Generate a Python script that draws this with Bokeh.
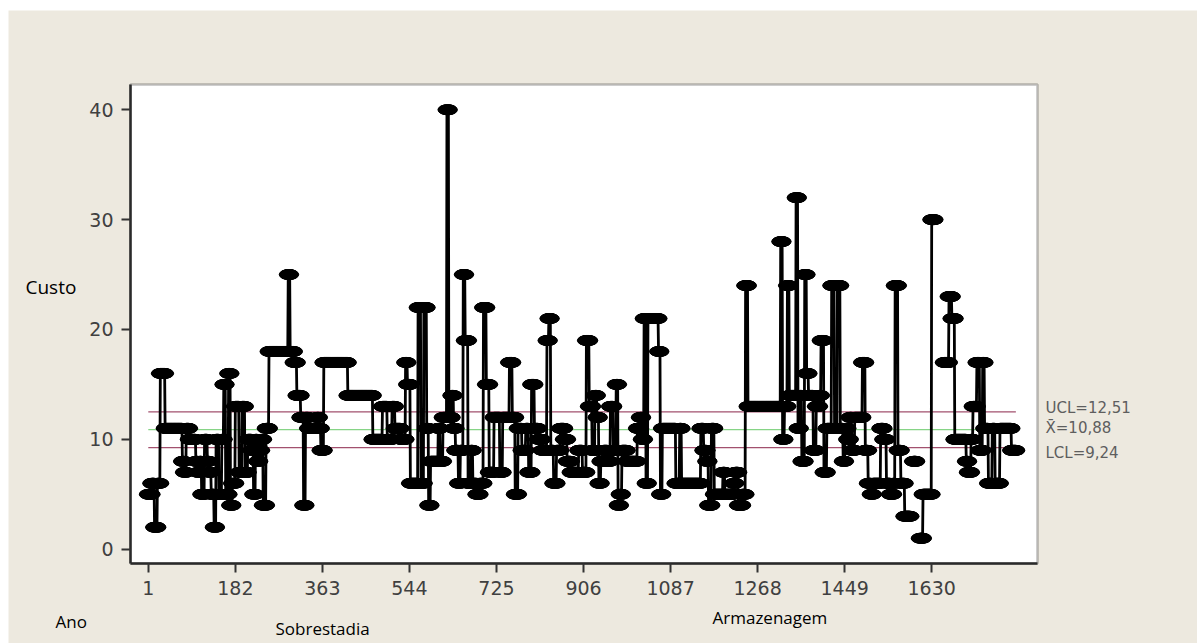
import numpy as np
from bokeh.plotting import figure
from bokeh.models import Range1d, FixedTicker, Label, BoxAnnotation
from bokeh.embed import file_html
from bokeh.resources import INLINE

nan = float("nan")

# ---- data: runs of the individual-value series (start index, value) ----
run_start = [
    1, 8, 14, 20, 26, 36, 72, 76, 80, 86, 100, 104, 108, 112, 118, 124, 128, 132, 138, 142,
    148, 154, 158, 162, 168, 172, 176, 182, 190, 196, 202, 208, 216, 220, 224, 228, 232, 236,
    240, 246, 252, 292, 296, 304, 310, 318, 324, 328, 334, 352, 356, 360,
    366, 416, 468, 488, 498, 508, 514, 526, 536, 540, 546, 562, 568, 574, 580, 584, 588, 604,
    608, 614, 622, 626, 632, 636, 640, 646, 650, 656, 660, 666, 672, 676, 684, 690, 698, 704,
    710, 720, 732, 738, 752, 758, 764, 770, 778,
    786, 792, 798, 804, 812, 820, 830, 834, 838, 844, 850, 858, 866, 872, 880, 896, 904, 912,
    918, 924, 930, 934, 938, 942, 948, 956, 962, 968, 974, 978, 982, 986, 996, 1018, 1024,
    1028, 1032, 1036, 1040, 1062, 1066, 1070, 1098, 1106, 1110, 1150, 1156, 1162, 1166, 1172,
    1178, 1196, 1200, 1218, 1222, 1228, 1236,
    1243, 1248, 1316, 1320, 1324, 1330, 1334, 1348, 1352, 1356, 1360, 1366, 1370, 1374, 1384,
    1390, 1396, 1400, 1406, 1412, 1422, 1428, 1434, 1440, 1446, 1450, 1455, 1460, 1464, 1470,
    1486, 1492, 1498, 1504, 1508, 1524, 1530, 1536, 1544, 1550, 1554, 1560, 1566, 1574, 1586,
    1592, 1598, 1606, 1612, 1630, 1636, 1656, 1666, 1672, 1678, 1702, 1706, 1712, 1716, 1724,
    1730, 1736, 1740, 1748, 1756, 1762, 1772, 1796,
]
run_value = [
    5, 6, 2, 6, 16, 11, 8, 7, 11, 10, 8, 7, 8, 5, 10, 8, 7, 5, 2, 10,
    5, 10, 15, 5, 16, 4, 6, 13, 7, 13, 7, 10, 9, 5, 10, 8, 9, 10,
    4, 11, 18, 25, 18, 17, 14, 12, 4, 12, 11, 12, 11, 9,
    17, 14, 10, 13, 10, 13, 11, 10, 17, 15, 6, 22, 6, 22, 11, 4, 8, 11,
    8, 12, 40, 12, 14, 11, 9, 6, 9, 25, 19, 6, 9, 6, 5, 6, 22, 15,
    7, 12, 7, 12, 17, 12, 5, 11, 9,
    11, 7, 15, 11, 10, 9, 19, 21, 9, 6, 9, 11, 10, 8, 7, 9, 7, 19,
    13, 9, 14, 12, 6, 8, 9, 8, 13, 9, 15, 4, 5, 9, 8, 11, 12,
    10, 21, 6, 21, 18, 5, 11, 6, 11, 6, 11, 9, 8, 4, 11,
    5, 7, 5, 6, 7, 4, 5,
    24, 13, 28, 10, 13, 24, 14, 32, 11, 14, 8, 25, 16, 14, 9,
    13, 14, 19, 7, 11, 24, 11, 24, 11, 8, 11, 10, 12, 9, 12,
    17, 9, 6, 5, 6, 11, 10, 6, 5, 6, 24, 9, 6, 3, nan,
    8, nan, 1, 5, 30, nan, 17, 23, 21, 10, 8, 7, 10, 13, 17,
    9, 17, 11, 6, 11, 6, 11, 9,
]
last_index = 1805

x_ticks = [1, 182, 363, 544, 725, 906, 1087, 1268, 1449, 1630]
y_ticks = [0, 10, 20, 30, 40]

limit_values = [12.51, 10.88, 9.24]
limit_texts = ["UCL=12,51", "X\u0304=10,88", "LCL=9,24"]
limit_colors = ["#a2506e", "#86d486", "#a2506e"]

# ---- build series ----
lengths = np.diff(run_start + [last_index + 1])
xs = np.arange(1, last_index + 1)
ys = np.repeat(np.array(run_value, dtype=float), lengths)

# chart box (data extent shown inside the white panel)
box_x = (-36, 1850)
box_y = (-1.3, 42.3)

BG = "#EDE9DF"
W, H = 1189, 633
# white panel occupies canvas pixels x 122..1029, y 74..553 (from top)
ux = (box_x[1] - box_x[0]) / 907.0
uy = (box_y[1] - box_y[0]) / 479.0
xr = Range1d(box_x[0] - 122 * ux, box_x[1] + (W - 1029) * ux)
yr = Range1d(box_y[0] - (H - 553) * uy, box_y[1] + 74 * uy)

p = figure(width=W, height=H, output_backend="svg", toolbar_location=None,
           x_range=xr, y_range=yr,
           min_border=0, min_border_left=0, min_border_right=0, min_border_top=0, min_border_bottom=0,
           background_fill_color=BG, border_fill_color=BG, outline_line_color=None)
p.margin = (10, 0, 0, 8)
p.grid.visible = False

p.add_layout(BoxAnnotation(left=box_x[0], right=box_x[1], bottom=box_y[0], top=box_y[1],
                           fill_color="white", fill_alpha=1, line_color="#2a2a2a",
                           line_width=2.5, level="underlay"))

p.xaxis.ticker = FixedTicker(ticks=x_ticks)
p.yaxis.ticker = FixedTicker(ticks=y_ticks)
p.xaxis.fixed_location = box_y[0]
p.yaxis.fixed_location = box_x[0]
p.xaxis.bounds = box_x
p.yaxis.bounds = box_y
for ax in (p.xaxis[0], p.yaxis[0]):
    ax.major_label_text_font = "DejaVu Sans"
    ax.major_label_text_font_size = "19px"
    ax.major_label_text_color = "#404040"
    ax.minor_tick_line_color = None
    ax.major_tick_in = 0
    ax.major_tick_out = 9
    ax.major_tick_line_width = 2
    ax.major_tick_line_color = "#333333"
    ax.axis_line_color = "#2a2a2a"
    ax.axis_line_width = 2.5
p.xaxis.major_label_standoff = 8
p.yaxis.major_label_standoff = 8

# control limits
p.segment(x0=[xs[0]] * 3, x1=[xs[-1]] * 3, y0=limit_values, y1=limit_values,
          line_color=limit_colors, line_width=1.3)

# series
p.line(xs, ys, line_color="black", line_width=2.8)
p.ellipse(xs, ys, width=18, height=10, width_units="screen", height_units="screen",
          fill_color="black", line_color="black")

font = "Open Sans"
for txt, sx, sy, fs in [("Custo", 17, 357, "19px"), ("Ano", 47, 22, "17px"),
                        ("Sobrestadia", 267, 15, "17px"), ("Armazenagem", 704, 26, "17px")]:
    p.add_layout(Label(x=sx, y=sy, x_units="screen", y_units="screen", text=txt,
                       text_font=font, text_font_size=fs, text_baseline="middle",
                       text_color="black"))

label_y = [12.85, 11.0, 8.75]
for t, yy in zip(limit_texts, label_y):
    p.add_layout(Label(x=1037, y=yy, x_units="screen", y_units="data", text=t,
                       text_font="DejaVu Sans", text_font_size="15px", text_baseline="middle",
                       text_color="#5e5e5e"))

open("out.html", "w").write(file_html(p, INLINE))
